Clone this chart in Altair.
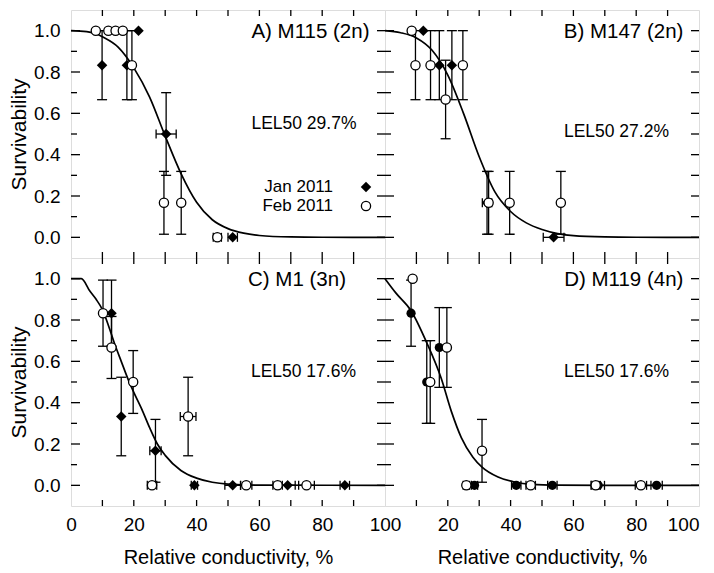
import altair as alt
import pandas as pd

W, H = 314, 248
FONT = "Liberation Sans"
INK = "black"

X_LABELS = [0, 20, 40, 60, 80, 100]
X_TICKS = [10, 20, 30, 40, 50, 60, 70, 80, 90]
Y_LABELS = [0.0, 0.2, 0.4, 0.6, 0.8, 1.0]
Y_MAJOR = [0.0, 0.2, 0.4, 0.6, 0.8, 1.0]
Y_MINOR = [0.1, 0.3, 0.5, 0.7, 0.9]
Y_ALL = [0.0, 0.1, 0.2, 0.3, 0.4, 0.5, 0.6, 0.7, 0.8, 0.9, 1.0]
LEGEND = ["Jan 2011", "Feb 2011"]

# ---- Panel A
a_title = "A) M115 (2n)"
a_lel = "LEL50 29.7%"
a_jan_x = [9.9, 17.8, 21.5, 30.3, 51.5]
a_jan_y = [0.833, 0.833, 1.0, 0.5, 0.0]
a_jan_ye = [0.167, 0.167, 0.0, 0.2, 0.0]
a_jan_xe = [0.0, 0.0, 0.0, 3.2, 1.5]
a_feb_x = [7.9, 11.9, 14.2, 16.5, 19.4, 29.6, 35.1, 46.6]
a_feb_y = [1.0, 1.0, 1.0, 1.0, 0.833, 0.167, 0.167, 0.0]
a_feb_ye = [0.0, 0.0, 0.0, 0.0, 0.167, 0.152, 0.152, 0.0]
a_feb_xe = [0.0, 0.0, 0.0, 0.0, 0.0, 0.0, 0.0, 1.3]
a_curve_x = [0, 5, 8, 10, 15, 20, 25, 30, 35, 40, 45, 50, 55, 60, 70, 80, 100]
a_curve_y = [1.0, 0.995, 0.985, 0.97, 0.92, 0.82, 0.68, 0.49, 0.31, 0.17, 0.085, 0.042, 0.02, 0.009, 0.002, 0.0005, 0.0]

# ---- Panel B
b_title = "B) M147 (2n)"
b_lel = "LEL50 27.2%"
b_jan_x = [12.2, 17.3, 21.3, 32.5, 53.7]
b_jan_y = [1.0, 0.833, 0.833, 0.167, 0.0]
b_jan_ye = [0.0, 0.167, 0.167, 0.152, 0.0]
b_jan_xe = [0.0, 0.0, 0.0, 1.5, 3.3]
b_feb_x = [8.5, 9.7, 14.5, 19.3, 24.8, 33.0, 39.7, 56.0]
b_feb_y = [1.0, 0.833, 0.833, 0.667, 0.833, 0.167, 0.167, 0.167]
b_feb_ye = [0.0, 0.167, 0.167, 0.19, 0.167, 0.152, 0.152, 0.152]
b_feb_xe = [0.0, 0.0, 0.0, 0.0, 0.0, 0.0, 0.0, 0.0]
b_curve_x = [0, 5, 10, 15, 20, 25, 30, 35, 40, 45, 50, 55, 60, 70, 80, 100]
b_curve_y = [1.0, 0.99, 0.965, 0.905, 0.785, 0.60, 0.39, 0.22, 0.125, 0.07, 0.038, 0.018, 0.008, 0.002, 0.0005, 0.0]

# ---- Panel C
c_title = "C) M1 (3n)"
c_lel = "LEL50 17.6%"
c_jan_x = [12.9, 16.0, 26.9, 39.3, 51.5, 69.0, 87.2]
c_jan_y = [0.833, 0.333, 0.167, 0.0, 0.0, 0.0, 0.0]
c_jan_ye = [0.16, 0.19, 0.152, 0.0, 0.0, 0.0, 0.0]
c_jan_xe = [0.0, 0.0, 1.8, 1.0, 2.5, 2.4, 1.5]
c_feb_x = [10.2, 12.9, 19.8, 25.8, 37.3, 55.8, 65.8, 75.0]
c_feb_y = [0.833, 0.667, 0.5, 0.0, 0.333, 0.0, 0.0, 0.0]
c_feb_ye = [0.16, 0.15, 0.152, 0.0, 0.19, 0.0, 0.0, 0.0]
c_feb_xe = [0.0, 0.0, 0.0, 1.5, 2.5, 1.8, 1.5, 2.5]
c_curve_x = [0, 3.3, 6, 8, 10, 12, 14, 16, 18, 20, 22.5, 25, 27.5, 30, 35, 40, 45, 50, 60, 100]
c_curve_y = [1.0, 1.0, 0.94, 0.9, 0.85, 0.77, 0.68, 0.6, 0.52, 0.45, 0.37, 0.28, 0.2, 0.145, 0.072, 0.035, 0.015, 0.006, 0.001, 0.0]

# ---- Panel D
d_title = "D) M119 (4n)"
d_lel = "LEL50 17.6%"
d_jan_x = [8.3, 13.3, 17.3, 28.5, 41.8, 53.3, 67.9, 86.5]
d_jan_y = [0.833, 0.5, 0.667, 0.0, 0.0, 0.0, 0.0, 0.0]
d_jan_ye = [0.16, 0.2, 0.193, 0.0, 0.0, 0.0, 0.0, 0.0]
d_jan_xe = [0.0, 0.0, 0.0, 1.0, 1.5, 1.5, 2.0, 1.8]
d_feb_x = [8.8, 14.4, 19.7, 25.9, 30.9, 46.4, 67.1, 81.5]
d_feb_y = [1.0, 0.5, 0.667, 0.0, 0.167, 0.0, 0.0, 0.0]
d_feb_ye = [0.0, 0.2, 0.193, 0.0, 0.152, 0.0, 0.0, 0.0]
d_feb_xe = [0.0, 0.0, 0.0, 1.0, 0.0, 1.5, 1.5, 1.8]
d_curve_x = [0, 3.5, 8.3, 13.3, 17.9, 21.1, 24.3, 28, 30.9, 36, 41.3, 46.6, 55, 70, 100]
d_curve_y = [1.0, 0.93, 0.845, 0.69, 0.518, 0.359, 0.231, 0.136, 0.088, 0.04, 0.016, 0.005, 0.001, 0.0, 0.0]


def df_pts(xs, ys, ye, xe):
    return pd.DataFrame({"x": xs, "y": ys, "ye": ye, "xe": xe})


def panel(title, lel, jan, feb, cx, cy, jan_shape, jan_size, show_x, show_y,
          title_dx, title_y, lel_dx, lel_y, legend=False, right_col=False):
    xa = None
    if show_x:
        xkw = dict(values=X_LABELS, title="Relative conductivity, %", ticks=False, domain=False,
                   grid=False, labelPadding=9, titlePadding=13, labelFontSize=19, titleFontSize=20,
                   labelFont=FONT, titleFont=FONT, labelColor=INK, titleColor=INK,
                   titleFontWeight="normal", labelOverlap=False)
        if right_col:
            # the "0" of this panel coincides with the "100" of its neighbour
            xkw.update(labelFlush=True, labelExpr="datum.value == 0 ? '' : datum.label")
        else:
            xkw.update(labelFlush=False)
        xa = alt.Axis(**xkw)
    ya = alt.Axis(values=Y_LABELS, format=".1f", title="Survivability", ticks=False, domain=False,
                  grid=False, labelPadding=11, titlePadding=4, labelFontSize=19, titleFontSize=21,
                  labelFont=FONT, titleFont=FONT, labelColor=INK, titleColor=INK,
                  titleFontWeight="normal", labelOverlap=False, labelFlush=False) if show_y else None

    def X(f):
        return alt.X(f, type="quantitative", scale=alt.Scale(domain=[0, 100], nice=False, zero=False), axis=xa)

    def Y(f):
        return alt.Y(f, type="quantitative", scale=alt.Scale(domain=[-0.1, 1.1], nice=False, zero=False), axis=ya)

    both = pd.concat([jan, feb], ignore_index=True)
    layers = []
    # ticks (inside)
    xt = pd.DataFrame({"v": X_TICKS})
    layers.append(alt.Chart(xt).mark_rule(color=INK, strokeWidth=1.3).encode(
        x=X("v"), y=alt.value(H), y2=alt.value(H - 6)))
    layers.append(alt.Chart(xt).mark_rule(color=INK, strokeWidth=1.3).encode(
        x=X("v"), y=alt.value(0), y2=alt.value(6)))
    layers.append(alt.Chart(pd.DataFrame({"v": Y_MAJOR})).mark_rule(color=INK, strokeWidth=1.3).encode(
        y=Y("v"), x=alt.value(0), x2=alt.value(9)))
    layers.append(alt.Chart(pd.DataFrame({"v": Y_MINOR})).mark_rule(color=INK, strokeWidth=1.3).encode(
        y=Y("v"), x=alt.value(0), x2=alt.value(6)))
    layers.append(alt.Chart(pd.DataFrame({"v": Y_ALL})).mark_rule(color=INK, strokeWidth=1.3).encode(
        y=Y("v"), x=alt.value(W), x2=alt.value(W - 8)))
    # curve
    layers.append(alt.Chart(pd.DataFrame({"x": cx, "y": cy})).mark_line(
        color=INK, strokeWidth=1.7, interpolate="monotone").encode(x=X("x"), y=Y("y")))
    # vertical error bars
    v = alt.Chart(both).transform_filter("datum.ye > 0").transform_calculate(
        lo="datum.y - datum.ye", hi="datum.y + datum.ye")
    layers.append(v.mark_rule(color=INK, strokeWidth=1.3).encode(x=X("x"), y=Y("lo"), y2=alt.Y2("hi")))
    layers.append(v.transform_fold(["lo", "hi"], as_=["k", "e"]).mark_tick(
        orient="horizontal", size=10, thickness=1.3, color=INK, opacity=1).encode(x=X("x"), y=Y("e:Q")))
    # horizontal error bars
    h = alt.Chart(both).transform_filter("datum.xe > 0").transform_calculate(
        lo="datum.x - datum.xe", hi="datum.x + datum.xe")
    layers.append(h.mark_rule(color=INK, strokeWidth=1.3).encode(x=X("lo"), x2=alt.X2("hi"), y=Y("y")))
    layers.append(h.transform_fold(["lo", "hi"], as_=["k", "e"]).mark_tick(
        orient="vertical", size=9, thickness=1.3, color=INK, opacity=1).encode(x=X("e:Q"), y=Y("y")))
    # points
    layers.append(alt.Chart(jan).mark_point(shape=jan_shape, filled=True, color=INK, size=jan_size,
                                            opacity=1).encode(x=X("x"), y=Y("y")))
    layers.append(alt.Chart(feb).mark_point(shape="circle", filled=True, fill="white", stroke=INK,
                                            strokeWidth=1.3, size=85, opacity=1).encode(x=X("x"), y=Y("y")))
    # texts
    one = pd.DataFrame({"t": [title]})
    layers.append(alt.Chart(one).mark_text(font=FONT, fontSize=20.5, align="right", baseline="middle",
                                           color=INK).encode(text="t:N", x=alt.value(W - title_dx),
                                                             y=alt.value(title_y)))
    two = pd.DataFrame({"t": [lel]})
    layers.append(alt.Chart(two).mark_text(font=FONT, fontSize=17.5, align="right", baseline="middle",
                                           color=INK).encode(text="t:N", x=alt.value(W - lel_dx),
                                                             y=alt.value(lel_y)))
    if legend:
        for i, name in enumerate(LEGEND):
            ly = 177 + 19 * i
            layers.append(alt.Chart(pd.DataFrame({"t": [name]})).mark_text(
                font=FONT, fontSize=17, align="right", baseline="middle", color=INK).encode(
                text="t:N", x=alt.value(W - 52), y=alt.value(ly)))
        layers.append(alt.Chart(pd.DataFrame({"t": [LEGEND[0]]})).mark_point(
            shape="diamond", filled=True, color=INK, size=110, opacity=1).encode(
            x=alt.value(W - 19), y=alt.value(177)))
        layers.append(alt.Chart(pd.DataFrame({"t": [LEGEND[1]]})).mark_point(
            shape="circle", filled=True, fill="white", stroke=INK, strokeWidth=1.3, size=85,
            opacity=1).encode(x=alt.value(W - 19), y=alt.value(196)))
    return alt.layer(*layers).properties(width=W, height=H)


pA = panel(a_title, a_lel, df_pts(a_jan_x, a_jan_y, a_jan_ye, a_jan_xe),
           df_pts(a_feb_x, a_feb_y, a_feb_ye, a_feb_xe), a_curve_x, a_curve_y,
           "diamond", 110, False, True, 15.5, 22, 28.5, 113.5, legend=True)
pB = panel(b_title, b_lel, df_pts(b_jan_x, b_jan_y, b_jan_ye, b_jan_xe),
           df_pts(b_feb_x, b_feb_y, b_feb_ye, b_feb_xe), b_curve_x, b_curve_y,
           "diamond", 110, False, False, 15.6, 22, 30, 121.5)
pC = panel(c_title, c_lel, df_pts(c_jan_x, c_jan_y, c_jan_ye, c_jan_xe),
           df_pts(c_feb_x, c_feb_y, c_feb_ye, c_feb_xe), c_curve_x, c_curve_y,
           "diamond", 110, True, True, 39, 21.5, 29, 114)
pD = panel(d_title, d_lel, df_pts(d_jan_x, d_jan_y, d_jan_ye, d_jan_xe),
           df_pts(d_feb_x, d_feb_y, d_feb_ye, d_feb_xe), d_curve_x, d_curve_y,
           "circle", 85, True, False, 15.6, 21.5, 30, 114, right_col=True)

chart = alt.concat(pA, pB, pC, pD, columns=2, spacing=0, bounds="flush").properties(
    padding={"left": 0, "top": 0, "right": 0, "bottom": 0}
).configure_view(stroke=INK, strokeWidth=1.8).configure(background="white")

chart.save("out.html", embed_options={"renderer": "svg", "actions": False})
